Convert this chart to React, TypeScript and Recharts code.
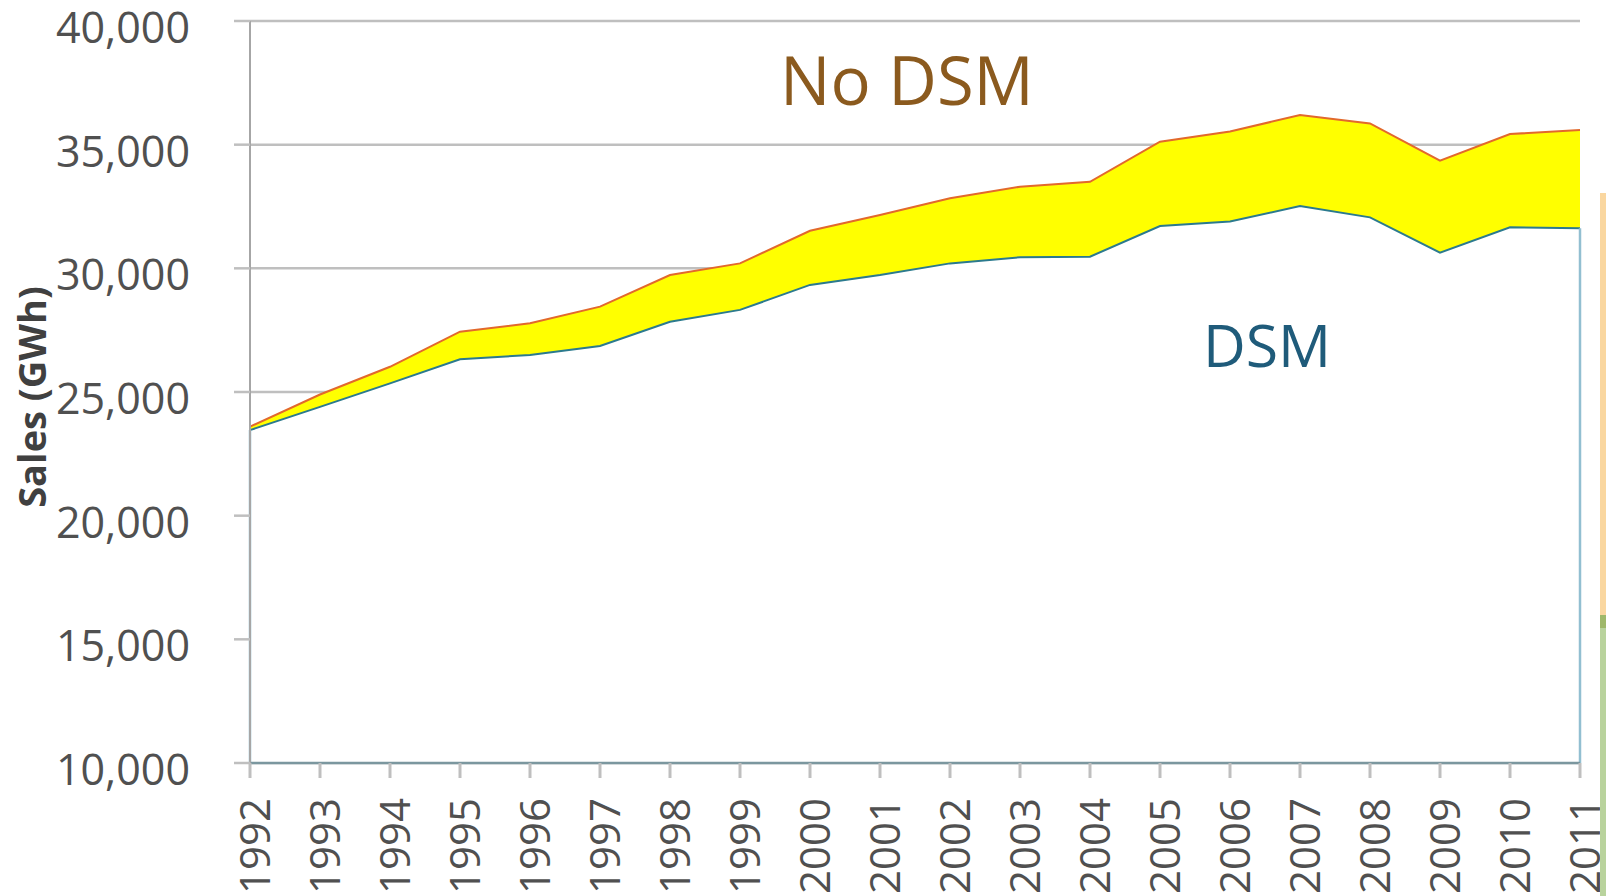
import { ComposedChart, Area, Line, XAxis, YAxis, CartesianGrid, ReferenceLine } from 'recharts';

const years = ['1992', '1993', '1994', '1995', '1996', '1997', '1998', '1999', '2000', '2001',
    '2002', '2003', '2004', '2005', '2006', '2007', '2008', '2009', '2010', '2011'];
const noDsmSales = [23600, 24900, 26020, 27440, 27780, 28450, 29730, 30200, 31520, 32160,
    32830, 33300, 33500, 35120, 35530, 36200, 35860, 34350, 35430, 35590];
const dsmSales = [23460, 24400, 25350, 26320, 26500, 26860, 27840, 28320, 29330, 29730,
    30200, 30450, 30470, 31710, 31890, 32520, 32060, 30630, 31660, 31620];
const yTicks = [10000, 15000, 20000, 25000, 30000, 35000, 40000];

const data = years.map((year, i) => ({
    year,
    noDsm: noDsmSales[i],
    dsm: dsmSales[i],
    savings: [dsmSales[i], noDsmSales[i]],
}));

const FONT = '"Open Sans", sans-serif';
const last = years.length - 1;

const YTick = ({ x, y, payload }: any) => (
    <text x={x} y={y + 22} textAnchor="end" fontFamily={FONT} fontSize={43} fill="#505050">
        {Number(payload.value).toLocaleString('en-US')}
    </text>
);

const XTick = ({ x, y, payload }: any) => (
    <g transform={`translate(${x},${y})`}>
        <text x={0} y={20} transform="rotate(-90)" textAnchor="end" fontFamily={FONT} fontSize={42} fill="#505050">
            {payload.value}
        </text>
    </g>
);

export default function App() {
    return (
        <div style={{ position: 'absolute', left: 0, top: 0, width: 1606, height: 896, background: '#fff', overflow: 'hidden' }}>
            <ComposedChart width={1606} height={896} data={data} margin={{ top: 21, right: 26, bottom: 0, left: 0 }}>
                <CartesianGrid vertical={false} stroke="#bfbfbf" strokeWidth={2.5} />
                <Area dataKey="dsm" fill="#ffffff" fillOpacity={1} stroke="none" isAnimationActive={false} />
                <Area dataKey="savings" fill="#ffff00" fillOpacity={1} stroke="none" isAnimationActive={false} />
                <Line dataKey="noDsm" stroke="#e2692c" strokeWidth={2} dot={false} isAnimationActive={false} />
                <Line dataKey="dsm" stroke="#2b7a8e" strokeWidth={2} dot={false} isAnimationActive={false} />
                <XAxis dataKey="year" scale="point" height={133} interval={0}
                    axisLine={{ stroke: '#7b979f', strokeWidth: 2.5 }}
                    tickLine={{ stroke: '#bfbfbf', strokeWidth: 3 }}
                    tickSize={15} tickMargin={20} tick={<XTick />} />
                <YAxis domain={[10000, 40000]} ticks={yTicks} width={250} interval={0}
                    axisLine={{ stroke: '#a6a6a6', strokeWidth: 2 }}
                    tickLine={{ stroke: '#bfbfbf', strokeWidth: 2.5 }}
                    tickSize={16} tickMargin={44} tick={<YTick />} />
                <ReferenceLine segment={[{ x: years[0], y: yTicks[0] }, { x: years[0], y: dsmSales[0] }]}
                    stroke="#92bfd1" strokeWidth={2.5} />
                <ReferenceLine segment={[{ x: years[last], y: yTicks[0] }, { x: years[last], y: dsmSales[last] }]}
                    stroke="#92bfd1" strokeWidth={2.5} />
            </ComposedChart>
            <svg width={1606} height={896} style={{ position: 'absolute', left: 0, top: 0, pointerEvents: 'none' }}>
                <text x={907} y={105} textAnchor="middle" fontFamily={FONT} fontSize={67} fill="#8b5a1e">No DSM</text>
                <text x={1267} y={367} textAnchor="middle" fontFamily={FONT} fontSize={59} fill="#1f5b7a">DSM</text>
                <text transform="translate(46,397) rotate(-90)" textAnchor="middle" fontFamily={FONT}
                    fontSize={38} fontWeight="bold" fill="#404040">Sales (GWh)</text>
            </svg>
            <div style={{ position: 'absolute', left: 1600, top: 193, width: 6, height: 422, background: '#fad7a0' }} />
            <div style={{ position: 'absolute', left: 1600, top: 615, width: 6, height: 13, background: '#9fb86a' }} />
            <div style={{ position: 'absolute', left: 1600, top: 628, width: 6, height: 268, background: '#b9d39d' }} />
        </div>
    );
}
